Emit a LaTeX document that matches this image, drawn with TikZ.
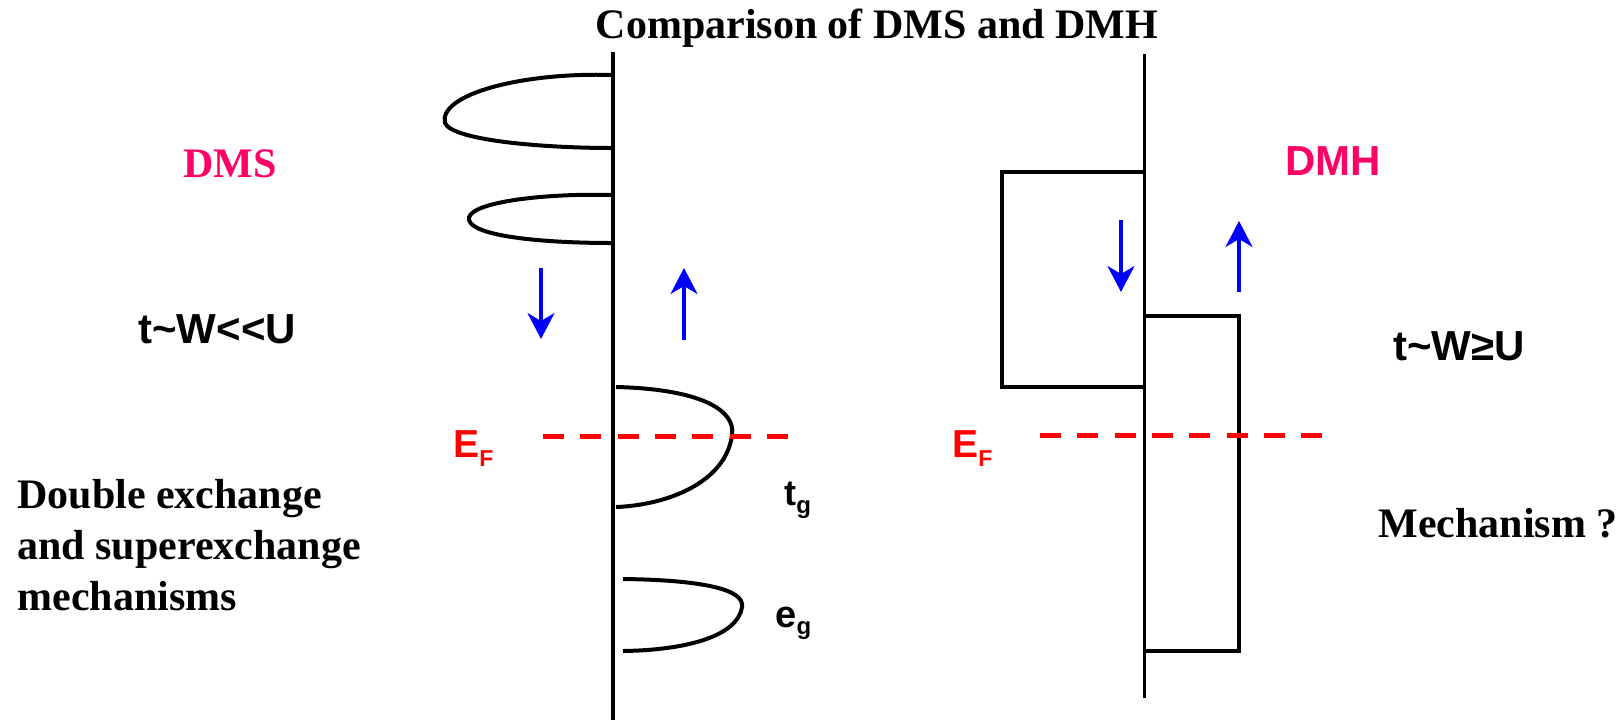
\documentclass[tikz,border=0pt]{standalone}
\usepackage{fontspec}
\setmainfont{Liberation Serif}
\newfontfamily\arialfont{Liberation Sans}
\usepackage{xcolor}
\usetikzlibrary{arrows.meta}
\definecolor{DmsPink}{HTML}{FF0066}
\definecolor{SpinBlue}{HTML}{0000FF}
\definecolor{EfRed}{HTML}{FF0000}

\begin{document}
\begin{tikzpicture}[
  x=0.5pt,y=-0.5pt,
  band/.style={line width=2pt,black},
  vaxis/.style={line width=2pt,black},
  fermi/.style={line width=2.5pt,color=EfRed,dash pattern=on 10.5pt off 8.15pt},
  spin/.style={-{Stealth[length=13pt,width=13.5pt,inset=4pt]},line width=1.6pt,color=SpinBlue},
  serifbig/.style={inner sep=0pt,anchor=base west,font=\fontsize{21}{25.5}\selectfont\bfseries},
  sansbig/.style={inner sep=0pt,anchor=base west,font=\arialfont\fontsize{21}{25}\selectfont\bfseries},
  efermi/.style={inner sep=0pt,anchor=base west,text=EfRed,font=\arialfont\fontsize{19.5}{22}\selectfont\bfseries}
]
  \useasboundingbox (0,0) rectangle (1623,720);

  \node[serifbig,anchor=base] (title) at (877,38) {Comparison of DMS and DMH};

  % DMS side
  \draw[vaxis] (613,52) -- (613,720);
  \draw[band] (613,75) .. controls (520,72) and (438,95) .. (445,123)
    .. controls (452,140) and (540,148) .. (613,148);
  \draw[band] (613,195) .. controls (540,193) and (465,203) .. (469,220)
    .. controls (473,236) and (540,243) .. (613,243);
  \draw[band] (616,387) .. controls (700,389) and (736,410) .. (732,435)
    .. controls (726,482) and (668,505) .. (616,507);
  \draw[band] (623,579) .. controls (705,580) and (745,590) .. (742,607)
    .. controls (738,635) and (690,650) .. (623,651);
  \draw[spin] (541,268) -- (541,339);
  \draw[spin] (684,340) -- (684,268);
  \draw[fermi] (543,436) -- (788,436);

  \node[serifbig,text=DmsPink] (dms) at (183,177) {DMS};
  \node[sansbig] (wsmall) at (138,343) {t\textasciitilde W<<U};
  \node[efermi] (efleft) at (453,457) {E\raisebox{-4.5pt}{\fontsize{11.5}{13}\selectfont F}};
  \node[serifbig,align=left] (mech) at (17,610)
    {Double exchange\\and superexchange\\mechanisms};
  \node[inner sep=0pt,anchor=base west,font=\arialfont\fontsize{18}{21}\selectfont\bfseries] (tg) at (784,505)
    {t\raisebox{-4pt}{\fontsize{12}{14}\selectfont g}};
  \node[inner sep=0pt,anchor=base west,font=\arialfont\fontsize{19}{22}\selectfont\bfseries] (eg) at (775,627)
    {e\raisebox{-3.5pt}{\fontsize{12}{14}\selectfont g}};

  % DMH side
  \draw[line width=1.5pt] (1144,54) -- (1144,698);
  \draw[band] (1144,172) -- (1002,172) -- (1002,387) -- (1144,387);
  \draw[band] (1144,316) -- (1239,316) -- (1239,651) -- (1144,651);
  \draw[spin] (1121,220) -- (1121,292);
  \draw[spin] (1239,292) -- (1239,221);
  \draw[fermi] (1040,435) -- (1322,435);

  \node[sansbig,text=DmsPink] (dmh) at (1285,175) {DMH};
  \node[sansbig] (wlarge) at (1393,360) {t\textasciitilde W≥U};
  \node[efermi] (efright) at (952,457) {E\raisebox{-4.5pt}{\fontsize{11.5}{13}\selectfont F}};
  \node[serifbig] (mechq) at (1378,537) {Mechanism ?};
\end{tikzpicture}
\end{document}
